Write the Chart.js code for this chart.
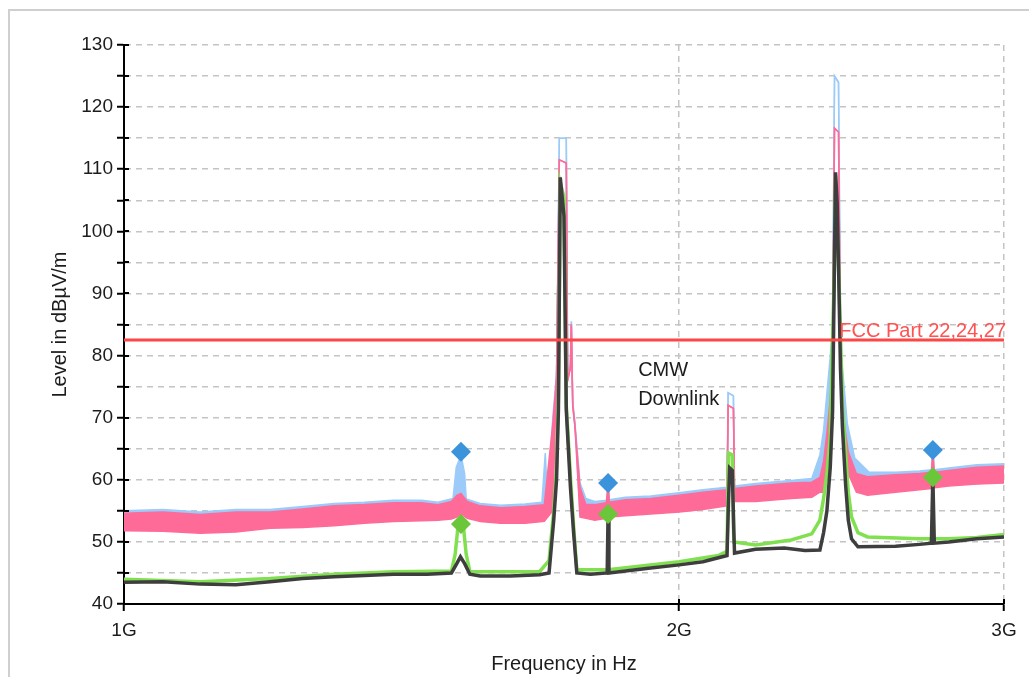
<!DOCTYPE html>
<html>
<head>
<meta charset="utf-8">
<title>Emission scan</title>
<script src="https://cdn.jsdelivr.net/npm/chart.js@4.4.1/dist/chart.umd.min.js"></script>
<style>
  body { margin: 0; background: #fff; }
  #wrap { position: relative; width: 1029px; height: 677px; }
  #frame { position: absolute; left: 8px; top: 9px; right: 0; bottom: 0;
           border-left: 2px solid #cfcfcf; border-top: 2px solid #cfcfcf; }
  canvas { position: absolute; left: 0; top: 0; }
</style>
</head>
<body>
<div id="wrap">
  <div id="frame"></div>
  <canvas id="scan" width="1029" height="677"></canvas>
</div>
<script>
// Frequencies in MHz, levels in dBµV/m
const xTicks = [1000, 2000, 3000];

// Peak detector trace (light blue), min/max of the noise band
const blueFreq = [1000, 1050, 1100, 1150, 1200, 1250, 1300, 1350, 1400, 1450, 1480, 1508, 1514, 1523, 1530, 1533,
  1560, 1600, 1650, 1685, 1692, 1697, 1708, 1716, 1722, 1737, 1740, 1746, 1748, 1751, 1756, 1767, 1780, 1800,
  1828, 1830, 1833, 1870, 1930, 2000, 2060, 2123, 2126, 2140, 2143, 2200, 2300, 2360, 2384, 2395, 2405, 2415,
  2422, 2428, 2440, 2446, 2452, 2467, 2490, 2535, 2620, 2700, 2740, 2745, 2750, 2800, 2900, 3000];
const blueHi = [55.0, 55.2, 54.8, 55.2, 55.2, 55.7, 56.2, 56.4, 56.7, 56.7, 56.4, 57.0, 62.0, 64.0, 61.0, 56.9,
  56.2, 55.9, 56.1, 56.4, 64.3, 56.6, 70.0, 77.0, 115.0, 115.0, 77.5, 78.5, 85.5, 72.5, 69.0, 59.5, 57.0, 56.5,
  56.7, 59.5, 56.8, 57.2, 57.4, 57.9, 58.4, 58.8, 74.0, 73.5, 59.0, 59.4, 59.9, 60.2, 64.0, 68.0, 74.0, 79.8,
  85.0, 125.0, 124.0, 85.0, 78.0, 69.0, 63.5, 61.2, 61.2, 61.4, 61.6, 64.8, 61.6, 61.9, 62.4, 62.6];
const blueLo = [52.1, 52.0, 51.7, 51.9, 52.5, 52.6, 52.9, 53.3, 53.6, 53.7, 53.8, 54.0, 56.5, 57.5, 56.5, 54.1,
  53.6, 53.3, 53.3, 53.6, 54.0, 54.0, 56.0, 77.0, 115.0, 115.0, 77.5, 78.5, 85.5, 72.5, 69.0, 54.3, 54.1, 53.8,
  54.1, 54.3, 54.3, 54.5, 54.8, 55.1, 55.5, 56.1, 74.0, 73.5, 56.8, 56.8, 57.3, 57.5, 58.5, 60.0, 64.0, 70.0,
  85.0, 125.0, 124.0, 85.0, 72.0, 63.0, 59.0, 58.0, 58.3, 58.7, 58.9, 59.0, 59.0, 59.3, 59.6, 59.8];

// Average trace (pink), min/max of the noise band
const pinkFreq = [1000, 1050, 1100, 1150, 1200, 1250, 1300, 1350, 1400, 1450, 1480, 1505, 1515, 1523, 1535, 1560,
  1600, 1650, 1690, 1708, 1716, 1722, 1737, 1740, 1746, 1748, 1751, 1756, 1767, 1780, 1800, 1826, 1830, 1833,
  1870, 1930, 2000, 2060, 2123, 2126, 2140, 2143, 2200, 2300, 2360, 2384, 2395, 2405, 2415, 2422, 2428, 2440,
  2446, 2452, 2470, 2495, 2530, 2620, 2700, 2740, 2745, 2750, 2800, 2900, 3000];
const pinkHi = [54.6, 54.8, 54.4, 54.8, 54.8, 55.3, 55.8, 56.0, 56.3, 56.3, 56.0, 56.5, 57.5, 57.8, 56.5, 55.8,
  55.5, 55.7, 56.0, 69.0, 76.5, 111.5, 111.0, 76.0, 78.0, 85.0, 72.0, 68.5, 58.8, 56.0, 56.0, 56.3, 59.5, 56.4,
  56.8, 57.0, 57.5, 58.0, 58.4, 72.0, 71.5, 58.6, 59.0, 59.5, 59.6, 60.4, 63.0, 67.5, 73.0, 79.0, 116.6, 116.0,
  80.0, 71.0, 64.5, 61.0, 60.5, 60.8, 61.0, 61.2, 64.8, 61.2, 61.5, 62.0, 62.2];
const pinkLo = [51.8, 51.7, 51.4, 51.6, 52.2, 52.3, 52.6, 53.0, 53.3, 53.4, 53.5, 53.7, 54.0, 54.5, 53.8, 53.3,
  53.0, 53.0, 53.3, 55.0, 76.5, 111.5, 111.0, 76.0, 78.0, 85.0, 72.0, 68.5, 54.0, 53.8, 53.5, 53.8, 54.0, 54.0,
  54.2, 54.5, 54.8, 55.2, 55.8, 72.0, 71.5, 56.5, 56.5, 57.0, 57.2, 58.0, 58.0, 62.0, 68.0, 79.0, 116.6, 116.0,
  80.0, 68.0, 61.0, 58.0, 57.5, 58.0, 58.4, 58.6, 58.7, 58.7, 59.0, 59.3, 59.5];

// Second average trace (green)
const greenFreq = [1000, 1100, 1200, 1300, 1400, 1505, 1512, 1518, 1527, 1533, 1540, 1680, 1700, 1710, 1716, 1720,
  1724, 1732, 1737, 1746, 1753, 1760, 1830, 2000, 2100, 2123, 2127, 2137, 2141, 2200, 2300, 2360, 2384, 2395,
  2405, 2415, 2427, 2431, 2441, 2452, 2462, 2470, 2480, 2500, 2530, 2700, 2800, 2900, 3000];
const greenLevel = [44.0, 43.6, 44.1, 44.8, 45.2, 45.3, 48.0, 53.0, 53.0, 48.0, 45.2, 45.2, 47.0, 55.0, 62.0, 73.0,
  107.8, 105.5, 72.0, 60.5, 52.5, 45.5, 45.5, 46.8, 47.8, 48.5, 64.3, 64.0, 50.0, 49.5, 50.3, 51.3, 53.5, 57.0,
  61.0, 67.0, 93.0, 109.0, 93.0, 72.0, 64.0, 58.0, 54.0, 51.5, 50.8, 50.5, 50.5, 50.7, 51.2];

// Quasi-peak trace (dark grey)
const blackFreq = [1000, 1050, 1100, 1150, 1200, 1250, 1300, 1350, 1400, 1460, 1505, 1515, 1522, 1530, 1540, 1560,
  1620, 1680, 1700, 1710, 1716, 1720, 1724, 1732, 1737, 1746, 1753, 1760, 1790, 1828, 1830, 1832, 1870, 1930,
  2000, 2060, 2123, 2127, 2130, 2137, 2141, 2143, 2200, 2280, 2340, 2384, 2395, 2405, 2415, 2422, 2427, 2431,
  2436, 2441, 2446, 2452, 2462, 2470, 2480, 2500, 2620, 2700, 2740, 2745, 2750, 2800, 2900, 3000];
const blackLevel = [43.5, 43.6, 43.2, 43.1, 43.6, 44.1, 44.4, 44.6, 44.8, 44.8, 45.0, 46.5, 47.6, 46.5, 44.8, 44.5,
  44.5, 44.7, 45.0, 53.5, 60.0, 71.2, 108.7, 102.5, 71.2, 58.8, 51.4, 45.0, 44.8, 45.0, 54.5, 45.0, 45.3, 45.8,
  46.3, 46.8, 47.8, 56.7, 61.9, 61.5, 52.0, 48.2, 48.8, 49.0, 48.6, 48.7, 51.5, 55.0, 62.0, 71.0, 92.0, 109.5,
  104.5, 92.0, 78.0, 68.5, 59.0, 53.5, 50.5, 49.2, 49.3, 49.6, 49.8, 60.4, 49.8, 50.0, 50.5, 50.8];

// Markers
const markerFreq = [1523, 1830, 2745];
const markerPeak = [64.5, 59.5, 64.8];
const markerAvg = [52.9, 54.5, 60.4];

// Limit line
const limitName = 'FCC Part 22,24,27';
const limitLevel = 82.5;

const noteLines = ['CMW', 'Downlink'];
const noteFreq = 1900;
const noteLevel = 79.2;

const FONT = '"Liberation Sans", Arial, sans-serif';

function pts(freq, vals) {
  return freq.map((f, i) => ({ x: f * 1e6, y: vals[i] }));
}

function trace(label, freq, vals, color, width, order, fill, fillColor) {
  return {
    label: label,
    data: pts(freq, vals),
    borderColor: color,
    backgroundColor: fillColor || color,
    borderWidth: width,
    pointRadius: 0,
    tension: 0,
    fill: fill || false,
    order: order
  };
}

// text labels and the short inner tick marks
const notesPlugin = {
  id: 'notes',
  afterDraw(chart) {
    const { ctx } = chart;
    const x = chart.scales.x;
    const y = chart.scales.y;
    ctx.save();

    ctx.strokeStyle = '#000';
    ctx.lineWidth = 2;
    ctx.beginPath();
    y.ticks.forEach(t => {
      const py = Math.round(y.getPixelForValue(t.value));
      ctx.moveTo(x.left, py);
      ctx.lineTo(x.left + 5, py);
    });
    x.ticks.forEach(t => {
      const px = Math.round(x.getPixelForValue(t.value));
      ctx.moveTo(px, y.bottom);
      ctx.lineTo(px, y.bottom - 5);
    });
    ctx.stroke();

    ctx.font = '20px ' + FONT;
    ctx.fillStyle = '#1c1c1c';
    ctx.textBaseline = 'top';
    ctx.textAlign = 'left';
    const nx = x.getPixelForValue(noteFreq * 1e6);
    const ny = y.getPixelForValue(noteLevel);
    noteLines.forEach((s, i) => ctx.fillText(s, nx, ny + i * 29));

    ctx.fillStyle = '#ff5252';
    ctx.textAlign = 'right';
    ctx.textBaseline = 'alphabetic';
    ctx.fillText(limitName, x.right + 2, y.getPixelForValue(limitLevel) - 3);
    ctx.restore();
  }
};

const ctx = document.getElementById('scan').getContext('2d');
new Chart(ctx, {
  type: 'line',
  data: {
    datasets: [
      {
        label: 'Peak markers',
        data: pts(markerFreq, markerPeak),
        showLine: false,
        pointStyle: 'rectRot',
        pointRadius: 10,
        pointBackgroundColor: '#3b93dc',
        pointBorderWidth: 0,
        order: 0
      },
      {
        label: 'Average markers',
        data: pts(markerFreq, markerAvg),
        showLine: false,
        pointStyle: 'rectRot',
        pointRadius: 10,
        pointBackgroundColor: '#6cc63a',
        pointBorderWidth: 0,
        order: 0
      },
      trace(limitName, [1000, 3000], [limitLevel, limitLevel], '#ff4646', 3, 1),
      trace('QPK', blackFreq, blackLevel, '#3e3e3e', 3.5, 2),
      trace('AVG2', greenFreq, greenLevel, '#80e050', 3.5, 3),
      trace('AVG max', pinkFreq, pinkHi, '#ff6b98', 1.5, 4, '+1', '#ff6b98'),
      trace('AVG min', pinkFreq, pinkLo, '#ff6b98', 1.5, 4),
      trace('PK max', blueFreq, blueHi, '#9ccbfa', 1.5, 5, '+1', '#9ccbfa'),
      trace('PK min', blueFreq, blueLo, '#9ccbfa', 1.5, 5)
    ]
  },
  options: {
    responsive: false,
    animation: false,
    layout: { padding: { top: 45, right: 25, left: 0, bottom: 0 } },
    plugins: {
      legend: { display: false },
      tooltip: { enabled: false }
    },
    scales: {
      x: {
        type: 'logarithmic',
        min: 1e9,
        max: 3e9,
        afterBuildTicks: scale => {
          scale.ticks = xTicks.map(v => ({ value: v * 1e6 }));
        },
        afterFit: scale => { scale.height = 73; },
        ticks: {
          autoSkip: false,
          maxRotation: 0,
          padding: 8,
          color: '#1c1c1c',
          font: { family: FONT, size: 19 },
          callback: v => (v / 1e9) + 'G'
        },
        grid: {
          color: c => (c.tick && c.tick.value === 1e9) ? 'rgba(0,0,0,0)' : '#c4c4c4',
          lineWidth: 1.5,
          tickLength: 7,
          tickColor: '#000',
          tickWidth: 2
        },
        border: { color: '#000', width: 2, dash: [6, 5] },
        title: {
          display: true,
          text: 'Frequency in Hz',
          color: '#1c1c1c',
          font: { family: FONT, size: 20 },
          padding: { top: 0, bottom: 1 }
        }
      },
      y: {
        min: 40,
        max: 130,
        afterFit: scale => { scale.width = 124; },
        ticks: {
          stepSize: 5,
          padding: 4,
          color: '#1c1c1c',
          font: { family: FONT, size: 19 },
          callback: v => (v % 10 === 0 ? String(v) : '')
        },
        grid: {
          color: '#c4c4c4',
          lineWidth: 1.5,
          tickLength: 7,
          tickColor: '#000',
          tickWidth: 2
        },
        border: { color: '#000', width: 2, dash: [6, 5] },
        title: {
          display: true,
          text: 'Level in dBµV/m',
          color: '#1c1c1c',
          font: { family: FONT, size: 20 },
          padding: { top: 48, bottom: 0 }
        }
      }
    }
  },
  plugins: [notesPlugin]
});
</script>
</body>
</html>
